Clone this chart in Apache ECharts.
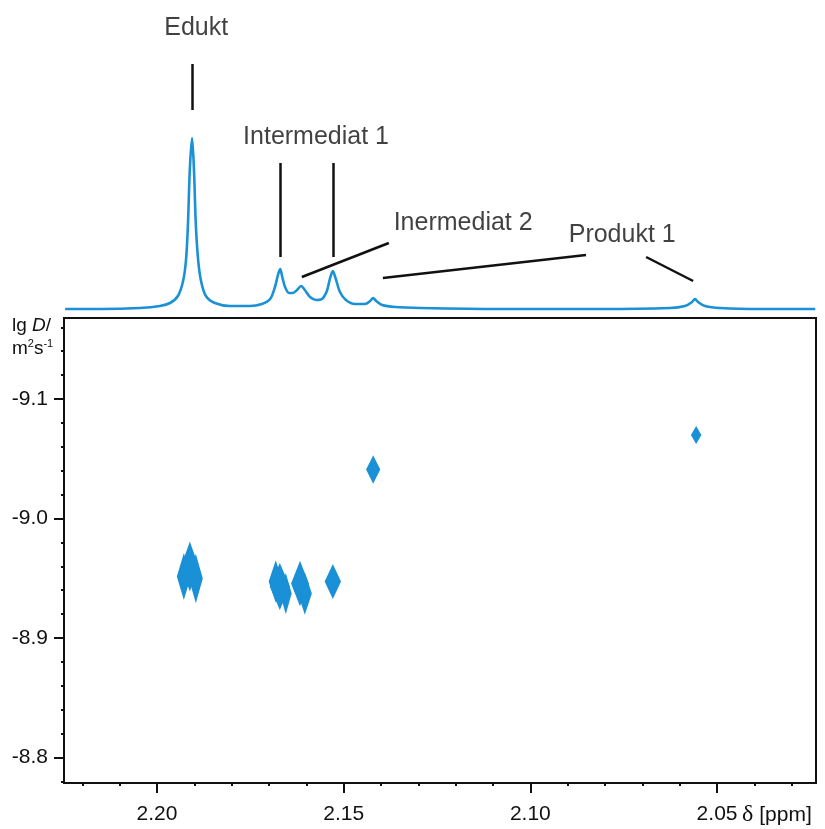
<!DOCTYPE html>
<html>
<head>
<meta charset="utf-8">
<script src="https://cdn.jsdelivr.net/npm/echarts@6/dist/echarts.min.js"></script>
<style>
html, body { margin: 0; padding: 0; background: #fff; }
#main { width: 825px; height: 829px; }
</style>
</head>
<body>
<div id="main"></div>
<script>
// 1D spectrum: [ppm, intensity (a.u.)]
var spectrum = [
  [2.2246, 0], [2.2150, 0], [2.2046, 1], [2.1992, 3], [2.1965, 6], [2.1944, 13],
  [2.1930, 28], [2.1922, 50], [2.1917, 85], [2.1912, 140], [2.1906, 171],
  [2.1901, 140], [2.1896, 85], [2.1890, 50], [2.1882, 28], [2.1869, 13],
  [2.1845, 6], [2.1804, 3], [2.1751, 3], [2.1719, 5], [2.1697, 10], [2.1684, 22],
  [2.1676, 34], [2.1670, 40], [2.1665, 33], [2.1657, 22], [2.1646, 16],
  [2.1636, 16], [2.1625, 19], [2.1614, 23], [2.1604, 19], [2.1590, 12],
  [2.1574, 9], [2.1558, 10], [2.1545, 18], [2.1537, 30], [2.1529, 38],
  [2.1521, 30], [2.1510, 17], [2.1494, 9], [2.1470, 5], [2.1443, 5],
  [2.1429, 8], [2.1421, 11], [2.1413, 8], [2.1397, 4], [2.1362, 2],
  [2.1295, 1], [2.1081, 0], [2.0813, 0], [2.0626, 1], [2.0586, 3],
  [2.0567, 7], [2.0559, 10], [2.0551, 7], [2.0532, 3], [2.0492, 1],
  [2.0385, 0], [2.0237, 0]
];

// DOSY contour spots: [ppm, lgD, half width (ppm), half height (lgD)]
var contours = [
  [2.1912, -8.9598, 0.0021, 0.0184],
  [2.1928, -8.9515, 0.0016, 0.0167],
  [2.1896, -8.9498, 0.0016, 0.0176],
  [2.1671, -8.9431, 0.0024, 0.0176],
  [2.1682, -8.9473, 0.0016, 0.0151],
  [2.1655, -8.9372, 0.0013, 0.0142],
  [2.1617, -8.9456, 0.0021, 0.0167],
  [2.1604, -8.9372, 0.0016, 0.0151],
  [2.1529, -8.9473, 0.0019, 0.0126],
  [2.1421, -9.0410, 0.0016, 0.0100],
  [2.0556, -9.0699, 0.0011, 0.0059]
];

var xMajor = [2.20, 2.15, 2.10, 2.05];
var xMinor = [2.22, 2.21, 2.19, 2.18, 2.17, 2.16, 2.14, 2.13, 2.12, 2.11, 2.09, 2.08, 2.07, 2.06, 2.04, 2.03];
var yMajor = [-9.1, -9.0, -8.9, -8.8];
var yMinor = [-9.16, -9.14, -9.12, -9.08, -9.06, -9.04, -9.02, -8.98, -8.96, -8.94, -8.92,
  -8.88, -8.86, -8.84, -8.82, -8.78];

// peak labels and leader lines in spectrum coordinates
var peakNames = ['Edukt', 'Intermediat 1', 'Inermediat 2', 'Produkt 1'];
var peakNamePos = [[2.1895, 281], [2.1574, 172], [2.1180, 86], [2.0754, 74]];
var leaders = [
  [[2.1906, 245], [2.1906, 199]],
  [[2.1670, 146], [2.1670, 52]],
  [[2.1529, 146], [2.1529, 52]],
  [[2.1612, 32], [2.1379, 66]],
  [[2.1395, 31], [2.0851, 54]],
  [[2.0690, 52], [2.0564, 28]]
];

var X_MIN = 2.0235, X_MAX = 2.2249;
var Y_MIN = -9.1678, Y_MAX = -8.7787;
var blue = '#1a90d6';
var ink = '#111';
var font = 'Liberation Sans, Arial, sans-serif';

var myChart = echarts.init(document.getElementById('main'));

var option = {
  animation: false,
  grid: [
    {left: 64, right: 9, top: 10, height: 304},
    {left: 64, right: 9, top: 318, bottom: 46, show: true, borderColor: ink, borderWidth: 2, backgroundColor: 'transparent'}
  ],
  xAxis: [
    {gridIndex: 0, type: 'value', inverse: true, min: X_MIN, max: X_MAX, show: false},
    {
      gridIndex: 1, type: 'value', inverse: true, min: X_MIN, max: X_MAX, position: 'bottom',
      splitLine: {show: false},
      axisLine: {lineStyle: {color: ink, width: 2}},
      axisTick: {customValues: xMajor, length: 10, lineStyle: {color: ink, width: 2}},
      axisLabel: {
        customValues: xMajor, margin: 21, fontSize: 21, fontFamily: font, color: ink,
        formatter: function (v) { return v.toFixed(2); }
      }
    },
    {
      gridIndex: 1, type: 'value', inverse: true, min: X_MIN, max: X_MAX, position: 'bottom', offset: 0,
      splitLine: {show: false},
      axisLine: {show: false},
      axisTick: {customValues: xMinor, length: 3, lineStyle: {color: ink, width: 2}},
      axisLabel: {show: false}
    }
  ],
  yAxis: [
    {gridIndex: 0, type: 'value', min: -5, max: 299, show: false},
    {
      gridIndex: 1, type: 'value', inverse: true, min: Y_MIN, max: Y_MAX, position: 'left',
      splitLine: {show: false},
      axisLine: {show: true, lineStyle: {color: ink, width: 2}},
      axisTick: {show: true, customValues: yMajor, length: 10, lineStyle: {color: ink, width: 2}},
      axisLabel: {
        customValues: yMajor, margin: 16, fontSize: 21, fontFamily: font, color: ink,
        formatter: function (v) { return v.toFixed(1); }
      }
    },
    {
      gridIndex: 1, type: 'value', inverse: true, min: Y_MIN, max: Y_MAX, position: 'left', offset: 0,
      splitLine: {show: false},
      axisLine: {show: false},
      axisTick: {show: true, customValues: yMinor, length: 3, lineStyle: {color: ink, width: 2}},
      axisLabel: {show: false}
    }
  ],
  graphic: [
    {
      id: 'ylab1', type: 'text', left: 12, top: 316,
      style: {
        text: '{n|lg }{i|D}{n|/}',
        rich: {
          n: {fontSize: 19, fontFamily: font, fill: ink},
          i: {fontSize: 19, fontFamily: font, fontStyle: 'italic', fill: ink}
        }
      }
    },
    {
      id: 'ylab2', type: 'text', left: 12, top: 338,
      style: {
        text: '{n|m}{s|2}{n|s}{s|-1}',
        rich: {
          n: {fontSize: 19, fontFamily: font, fill: ink, lineHeight: 22},
          s: {fontSize: 11, fontFamily: font, fill: ink, verticalAlign: 'top', lineHeight: 22, padding: [0, 0, 10, 0]}
        }
      }
    }
  ],
  series: [
    {
      type: 'line', xAxisIndex: 0, yAxisIndex: 0,
      data: spectrum, showSymbol: false, smooth: 0.3,
      lineStyle: {color: blue, width: 2.6},
      markLine: {
        silent: true, symbol: 'none',
        lineStyle: {color: ink, width: 2.5, type: 'solid'},
        label: {show: false},
        data: leaders.map(function (l) {
          return [{coord: l[0]}, {coord: l[1]}];
        })
      }
    },
    {
      type: 'scatter', xAxisIndex: 0, yAxisIndex: 0, symbolSize: 0, silent: true,
      data: peakNamePos.map(function (p, i) { return {value: p, name: peakNames[i]}; }),
      label: {
        show: true, position: 'inside', formatter: '{b}',
        fontSize: 25, fontFamily: font, color: ink
      }
    },
    {
      type: 'custom', xAxisIndex: 1, yAxisIndex: 1, silent: true,
      data: contours,
      renderItem: function (params, api) {
        var x = api.value(0), y = api.value(1), w = api.value(2), h = api.value(3);
        var pts = [
          api.coord([x, y - h]), api.coord([x + w, y]),
          api.coord([x, y + h]), api.coord([x - w, y])
        ];
        return {
          type: 'polygon',
          shape: {points: pts},
          style: {fill: blue, stroke: blue, lineWidth: 2}
        };
      }
    }
  ]
};

myChart.setOption(option);

// unit label after the last x tick label
var lastTick = myChart.convertToPixel({xAxisIndex: 1}, xMajor[xMajor.length - 1]);
option.graphic.push({
  id: 'unit', type: 'text', x: lastTick + 25, y: 815,
  style: {
    text: '{d|δ} [ppm]', verticalAlign: 'middle',
    font: '21px Liberation Sans, Arial, sans-serif', fill: ink,
    rich: {d: {fontSize: 24, fontFamily: 'Liberation Serif, Times New Roman, serif', fill: ink}}
  }
});
myChart.setOption({graphic: option.graphic});
</script>
</body>
</html>
